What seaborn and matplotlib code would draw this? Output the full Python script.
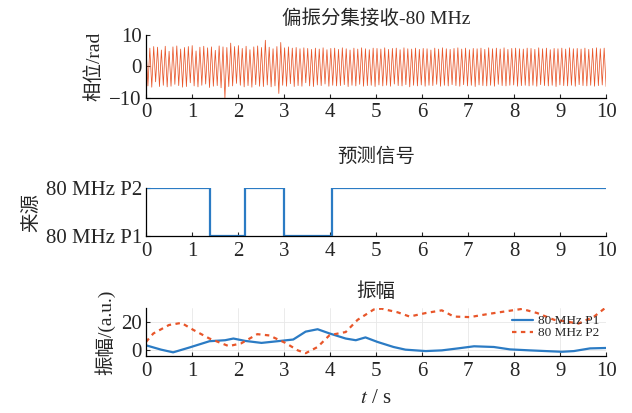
import matplotlib
matplotlib.use('Agg')
import matplotlib.pyplot as plt
import numpy as np
import pandas as pd
import seaborn as sns

# phase samples (rad), evenly spaced over 0-10 s
phase = [
    6.5, -6.2, 5.8, -6.6, 6.3, -4.9, 6.1, -6.4, 5.2, -6.0, 6.4, -6.5, 4.8, -6.3, 6.2, -5.7, 6.5, -6.1, 5.5, -6.6,
    6.0, -6.4, 6.3, -5.2, 6.6, -6.2, 4.9, -6.5, 6.1, -6.0, 6.4, -5.6, 5.9, -6.7, 6.2, -6.3, 5.1, -6.1, 6.5, -6.8,
    6.2, -10.2, 6.0, -6.4, 7.4, -6.2, 6.3, -5.4, 6.6, -6.0, 5.7, -6.5, 6.4, -6.1, 5.3, -6.6, 6.2, -5.8, 6.5, -6.3,
    6.0, -6.4, 8.3, -5.9, 6.1, -6.5, 5.6, -6.2, 6.3, -8.6, 7.6, -6.0, 5.9, -6.3, 6.2, -5.5, 5.8, -6.4, 6.0, -6.1,
    5.6, -6.3, 5.9, -5.2, 5.7, -6.2, 5.4, -6.4, 5.8, -5.9, 5.5, -6.1, 5.9, -5.6, 5.3, -6.3, 5.7, -6.0, 5.8, -6.2,
    5.4, -6.1, 5.9, -5.8, 5.6, -6.4, 5.2, -6.0, 5.8, -6.2, 5.5, -5.7, 5.9, -6.3, 5.6, -6.1, 5.3, -6.0, 5.8, -6.4,
    5.7, -5.9, 5.5, -6.2, 5.9, -6.0, 5.4, -6.3, 5.7, -5.6, 5.8, -6.1, 5.3, -6.2, 5.9, -5.8, 5.6, -6.5, 5.5, -6.0,
    5.8, -6.2, 5.4, -5.9, 5.7, -6.3, 5.6, -6.0, 5.2, -6.1, 5.8, -5.7, 5.5, -6.3, 5.9, -6.0, 5.6, -6.2, 5.4, -5.8,
    5.7, -6.1, 5.9, -6.3, 5.5, -5.8, 5.8, -6.2, 5.3, -6.0, 5.7, -6.4, 5.6, -5.9, 5.8, -6.1, 5.4, -6.2, 5.9, -6.0,
    5.6, -6.3, 5.8, -5.7, 5.5, -6.1, 5.9, -6.2, 5.4, -6.0, 5.7, -5.9, 5.8, -6.3, 5.6, -6.1, 5.5, -6.0, 5.8, -6.2,
    5.7, -6.0, 5.4, -6.3, 5.9, -5.8, 5.6, -6.1, 5.8, -6.2, 5.3, -6.0, 5.7, -6.4, 5.6, -5.9, 5.8, -6.1, 5.5, -6.2,
    5.9, -6.0, 5.6, -6.3, 5.7, -5.8, 5.5, -6.1, 5.8, -6.2, 5.4, -6.0, 5.7, -6.3, 5.9, -6.1, 5.6, -5.9, 5.8, -6.4,
]

# predicted source (1 = P2, 0 = P1), switch times in s
switch_t = [0, 1.4, 2.15, 3.0, 4.05, 10]
switch_src = [1, 0, 1, 0, 1, 1]
src_labels = ['80 MHz P1', '80 MHz P2']

# amplitudes
p1_t = [0, 0.33, 0.59, 0.94, 1.38, 1.72, 1.9, 2.16, 2.51, 2.86, 3.2, 3.47, 3.73, 3.99, 4.34, 4.56, 4.77,
        5.03, 5.38, 5.64, 6.08, 6.43, 6.78, 7.13, 7.56, 7.91, 8.34, 8.69, 9.04, 9.3, 9.65, 10]
p1_v = [3.6, 0.5, -1.4, 2.0, 6.5, 7.2, 8.4, 6.7, 5.3, 6.5, 7.7, 13.3, 15.0, 12.0, 8.4, 7.2, 9.2,
        6.0, 2.4, 0.5, -0.5, 0.0, 1.4, 2.9, 2.4, 0.7, 0.0, -0.5, -1.0, -0.5, 1.4, 1.7]
p2_t = [0, 0.16, 0.5, 0.77, 1.03, 1.38, 1.8, 2.07, 2.42, 2.68, 3.03, 3.3, 3.47, 3.73, 3.99, 4.34, 4.6,
        4.95, 5.12, 5.47, 5.73, 6.08, 6.43, 6.69, 7.04, 7.47, 7.82, 8.17, 8.5, 8.87, 9.04, 9.4, 9.74, 10]
p2_v = [6.0, 12.0, 18.0, 19.5, 14.5, 8.4, 3.0, 5.0, 11.5, 10.6, 5.3, 0.0, -2.0, 2.4, 10.8, 13.0, 21.7,
        29.0, 29.6, 27.0, 24.0, 26.5, 28.4, 24.0, 23.6, 26.0, 27.7, 29.4, 26.5, 21.7, 21.0, 19.0, 24.0, 30.6]

orange = '#e8562a'
blue = '#2b7bc4'

sns.set_style('ticks')
plt.rcParams['font.family'] = ['Liberation Serif', 'Noto Sans CJK SC']
plt.rcParams['mathtext.fontset'] = 'stix'
plt.rcParams['axes.unicode_minus'] = True
plt.rcParams['xtick.direction'] = 'in'
plt.rcParams['ytick.direction'] = 'in'

fig = plt.figure(figsize=(6.32, 4.13), dpi=100)
ax1 = fig.add_axes([0.231, 0.763, 0.728, 0.1525])
ax2 = fig.add_axes([0.231, 0.4286, 0.728, 0.116])
ax3 = fig.add_axes([0.231, 0.138, 0.728, 0.116])

fs = 14
tfs = 15

# phase
df_ph = pd.DataFrame({'t': np.linspace(0, 10, len(phase)), 'v': phase})
sns.lineplot(data=df_ph, x='t', y='v', ax=ax1, color=orange, linewidth=0.55)
ax1.set_ylim(-10, 10)
ax1.set_yticks([-10, 0, 10])
ax1.set_ylabel('相位/rad', fontsize=fs)
ax1.set_title('偏振分集接收-80 MHz', fontsize=fs, pad=8)

# predicted source
df_src = pd.DataFrame({'t': switch_t, 's': switch_src})
sns.lineplot(data=df_src, x='t', y='s', ax=ax2, color=blue, linewidth=1.6, drawstyle='steps-post')
ax2.set_ylim(0, 1)
ax2.set_yticks([0, 1])
ax2.set_yticklabels(src_labels)
ax2.set_ylabel('来源', fontsize=fs)
ax2.set_title('预测信号', fontsize=fs, pad=19)

# amplitude
df_p1 = pd.DataFrame({'t': p1_t, 'v': p1_v})
df_p2 = pd.DataFrame({'t': p2_t, 'v': p2_v})
sns.lineplot(data=df_p1, x='t', y='v', ax=ax3, color=blue, linewidth=1.6, label='80 MHz P1')
sns.lineplot(data=df_p2, x='t', y='v', ax=ax3, color=orange, linewidth=1.6, linestyle=(0, (2, 2)),
             label='80 MHz P2')
ax3.set_ylim(-4, 30)
ax3.set_yticks([0, 20])
ax3.set_ylabel('振幅/(a.u.)', fontsize=fs)
ax3.set_title('振幅', fontsize=fs, pad=8)
ax3.set_xlabel('$t$ / s', fontsize=tfs, labelpad=6)
ax3.grid(True, color='#e8e8e8', linewidth=0.6)
ax3.legend(loc='center right', frameon=False, fontsize=9.5, handlelength=1.6,
           borderaxespad=0.1, labelspacing=0.0, handletextpad=0.4, bbox_to_anchor=(1.0, 0.6))

for ax in (ax1, ax2, ax3):
    ax.set_xlim(0, 10)
    ax.set_xticks(range(0, 11))
    ax.tick_params(labelsize=tfs, length=3, width=0.8)
    ax.tick_params(axis='x', pad=4)
    ax.tick_params(axis='y', pad=3)
    sns.despine(ax=ax)
    for s in ('left', 'bottom'):
        ax.spines[s].set_linewidth(0.9)
        ax.spines[s].set_color('black')
    if ax is not ax3:
        ax.set_xlabel('')

fig.savefig('out.png', dpi=100)
